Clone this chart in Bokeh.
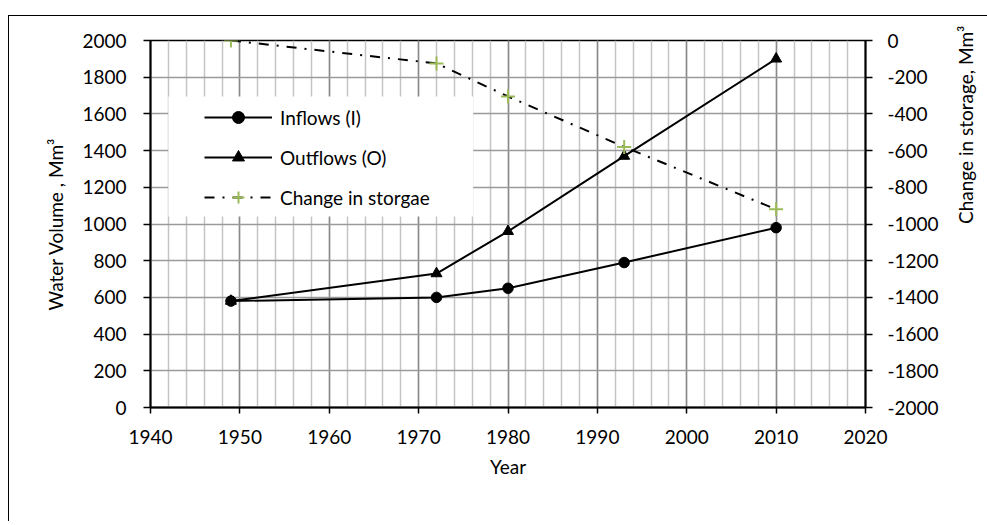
import math
from bokeh.plotting import figure
from bokeh.models import (Range1d, LinearAxis, SingleIntervalTicker, Legend, LegendItem,
                          BoxAnnotation, InlineStyleSheet, PrintfTickFormatter)
from bokeh.embed import file_html
from bokeh.resources import INLINE

# ---- data ----
years = [1949, 1972, 1980, 1993, 2010]
inflows = [580, 600, 650, 790, 980]
outflows = [580, 730, 960, 1370, 1900]
storage_change = [0, -125, -305, -580, -920]

x_ticks_interval = 10
y_ticks_interval = 200

FONT = "Lato"
FS = "19px"

p = figure(frame_width=715, frame_height=367,
           min_border_left=141, min_border_top=24, min_border_right=120, min_border_bottom=114,
           x_range=Range1d(1940, 2020), y_range=Range1d(0, 2000),
           output_backend="svg", toolbar_location=None,
           x_axis_label="Year", y_axis_label="Water Volume , Mm³")
# outer chart-area border: only its left and top edges fall inside the reference picture
p.stylesheets = [InlineStyleSheet(css=":host { margin-left: 8px; margin-top: 15px; "
                                      "border-left: 1px solid black; border-top: 1px solid black; }")]
p.background_fill_color = "white"
p.border_fill_color = "white"
p.outline_line_color = "black"
p.outline_line_width = 1.5

p.extra_y_ranges = {"storage": Range1d(-2000, 0)}
right_axis = LinearAxis(y_range_name="storage", axis_label="Change in storage, Mm³")
p.add_layout(right_axis, "right")

p.xaxis.ticker = SingleIntervalTicker(interval=x_ticks_interval, num_minor_ticks=5)
p.yaxis.ticker = SingleIntervalTicker(interval=y_ticks_interval, num_minor_ticks=0)

for ax in p.axis:
    ax.formatter = PrintfTickFormatter(format="%d")
    ax.axis_line_color = "black"
    ax.axis_line_width = 2
    ax.major_tick_line_color = "black"
    ax.major_tick_line_width = 1.5
    ax.major_tick_out = 7
    ax.major_tick_in = 0
    ax.minor_tick_line_color = None
    ax.major_label_text_font = FONT
    ax.major_label_text_font_size = FS
    ax.major_label_text_color = "black"
    ax.major_label_standoff = 17
    ax.axis_label_text_font = FONT
    ax.axis_label_text_font_size = FS
    ax.axis_label_text_font_style = "normal"
    ax.axis_label_text_color = "black"
    ax.axis_label_standoff = 12

right_axis.axis_label_orientation = math.pi / 2
right_axis.major_label_standoff = 15
right_axis.axis_label_standoff = 24
p.xaxis.major_label_standoff = 16
p.xaxis.axis_label_standoff = 8
p.xaxis.major_tick_out = 6

p.xgrid.grid_line_color = "#8a8a8a"
p.xgrid.grid_line_width = 1.5
p.xgrid.minor_grid_line_color = "#c4c4c4"
p.xgrid.minor_grid_line_width = 1.5
p.ygrid.grid_line_color = "#9a9a9a"
p.ygrid.grid_line_width = 1.5

# legend background box
p.add_layout(BoxAnnotation(left=1942, right=1976.1, bottom=1041, top=1695,
                           fill_color="white", fill_alpha=1.0, line_color=None))

# series
l_in = p.line(years, inflows, line_color="black", line_width=2)
m_in = p.scatter(years, inflows, marker="circle", size=10.5, fill_color="black", line_color="black")
l_out = p.line(years, outflows, line_color="black", line_width=2)
m_out = p.scatter(years, outflows, marker="triangle", size=11, fill_color="black", line_color="black")
l_st = p.line(years, storage_change, y_range_name="storage", line_color="black", line_width=2,
              line_dash="10 8 2 8")
m_st = p.scatter(years, storage_change, y_range_name="storage", marker="cross", size=14,
                 line_color="#9BBB59", line_width=2)

legend = Legend(items=[
    LegendItem(label="Inflows (I)", renderers=[l_in, m_in]),
    LegendItem(label="Outflows (O)", renderers=[l_out, m_out]),
    LegendItem(label="Change in storgae", renderers=[l_st, m_st]),
], location=(54, 195))
legend.padding = 0
legend.margin = 0
legend.spacing = 10
legend.glyph_width = 68
legend.glyph_height = 30
legend.label_standoff = 8
legend.label_text_font = FONT
legend.label_text_font_size = FS
legend.label_text_color = "black"
legend.border_line_color = None
legend.background_fill_alpha = 0
p.add_layout(legend, "center")

open("out.html", "w").write(file_html(p, INLINE))
